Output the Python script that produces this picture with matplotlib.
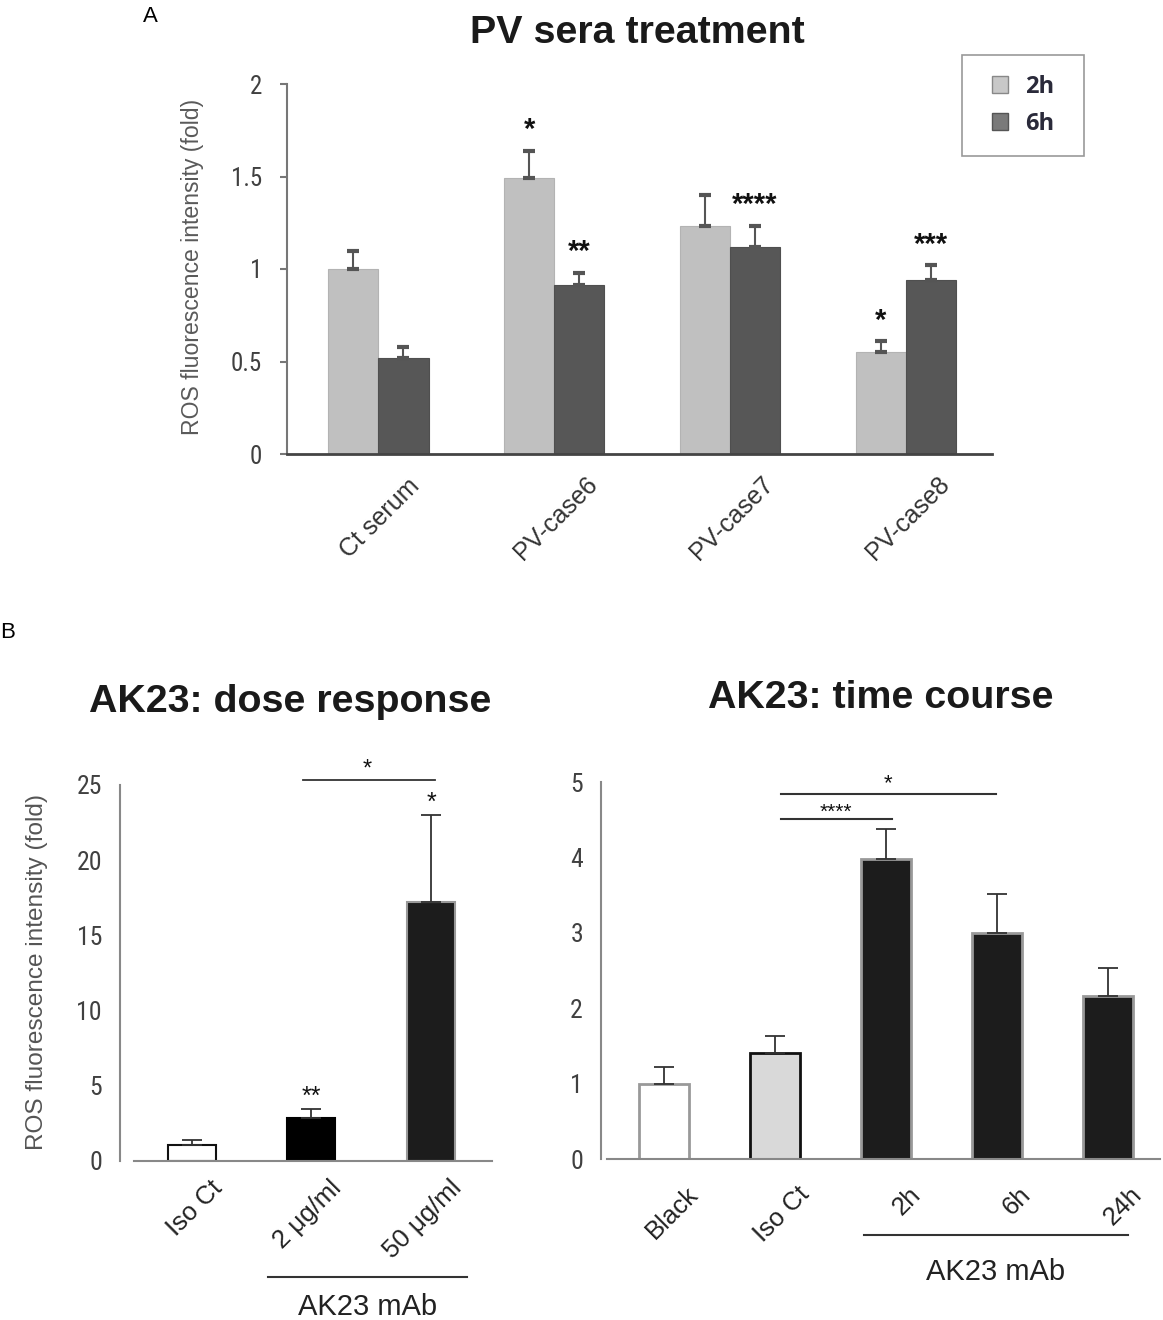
import matplotlib
matplotlib.use('Agg')
import matplotlib.pyplot as plt
import matplotlib.transforms as mtransforms
from matplotlib.patches import Rectangle, Patch
from matplotlib import font_manager
import numpy as np

# ---- data ----
# panel A: PV sera treatment
groups_a = ['Ct serum', 'PV-case6', 'PV-case7', 'PV-case8']
ros_2h = [1.00, 1.49, 1.235, 0.55]
sem_2h = [0.10, 0.15, 0.165, 0.06]
ros_6h = [0.52, 0.915, 1.12, 0.94]
sem_6h = [0.06, 0.065, 0.115, 0.08]
stars_2h = ['', '*', '', '*']
stars_6h = ['', '**', '****', '***']

# panel B left: dose response
dose_labels = ['Iso Ct', '2 μg/ml', '50 μg/ml']
dose_vals = [1.0, 2.85, 17.2]
dose_sem = [0.36, 0.58, 5.8]
dose_stars = ['', '**', '*']

# panel B right: time course
time_labels = ['Black', 'Iso Ct', '2h', '6h', '24h']
time_vals = [1.0, 1.41, 3.98, 3.0, 2.16]
time_sem = [0.22, 0.22, 0.40, 0.51, 0.37]

W, H = 1163, 1320
plt.rcParams['font.family'] = ['Liberation Sans', 'DejaVu Sans']


def pick_narrow():
    # look for a condensed sans to mimic Arial Narrow tick labels
    ranked = ['Liberation Sans Narrow', 'Roboto Condensed', 'Open Sans Condensed',
              'DejaVu Sans Condensed', 'DejaVu Sans']
    found = []
    for f in font_manager.fontManager.ttflist:
        narrowish = ('Narrow' in f.name or 'Condensed' in f.name
                     or f.stretch in ('condensed', 'semi-condensed', 'extra-condensed'))
        if not narrowish or f.style != 'normal':
            continue
        if f.weight not in (400, 'normal', 'regular', 'book'):
            continue
        rank = ranked.index(f.name) if f.name in ranked else len(ranked)
        found.append((rank, f.fname))
    if found:
        found.sort()
        return font_manager.FontProperties(fname=found[0][1])
    return font_manager.FontProperties(family='Liberation Sans')


narrow_fp = pick_narrow()

fig = plt.figure(figsize=(W / 100, H / 100), dpi=100)


def px_axes(left, right, top, bottom):
    return fig.add_axes([left / W, 1 - bottom / H, (right - left) / W, (bottom - top) / H])


def style_axes(ax, tick_len, tick_size):
    for s in ['top', 'right']:
        ax.spines[s].set_visible(False)
    ax.tick_params(axis='y', length=tick_len, width=1.5, color='#777777', pad=13,
                   labelcolor='#404040')
    for t in ax.get_yticklabels():
        t.set_fontproperties(narrow_fp)
        t.set_fontsize(tick_size)
    ax.set_xticks([])


# ---------------- panel A ----------------
ax_a = px_axes(287, 992, 84, 454)
x = np.arange(len(groups_a))
w = 0.285
ax_a.bar(x - w / 2, ros_2h, w, color='#c0c0c0', edgecolor='#b3b3b3', lw=0.8)
ax_a.bar(x + w / 2, ros_6h, w, color='#575757', edgecolor='#4f4f4f', lw=0.8)
ax_a.errorbar(x - w / 2, ros_2h, yerr=[np.zeros(len(x)), sem_2h], fmt='none',
              ecolor='#555555', elinewidth=1.5, capsize=4, capthick=3)
ax_a.errorbar(x + w / 2, ros_6h, yerr=[np.zeros(len(x)), sem_6h], fmt='none',
              ecolor='#555555', elinewidth=1.5, capsize=4, capthick=3)
ax_a.set_ylim(0, 2)
ax_a.set_xlim(-0.52, 3.49)
ax_a.set_yticks([0, 0.5, 1, 1.5, 2])
ax_a.set_yticklabels(['0', '0.5', '1', '1.5', '2'])
style_axes(ax_a, 5, 18)
ax_a.spines['left'].set_color('#777777')
ax_a.spines['left'].set_linewidth(1.5)
ax_a.spines['bottom'].set_color('#444444')
ax_a.spines['bottom'].set_linewidth(2)
for xi, lab in zip(x, groups_a):
    ax_a.text(xi + 0.01, -64 / 370, lab, transform=ax_a.get_xaxis_transform(),
              rotation=45, ha='center', va='center', rotation_mode='anchor',
              fontsize=18, color='#333333')
for xi, v, e, s in zip(x, ros_2h, sem_2h, stars_2h):
    if s:
        ax_a.text(xi - w / 2, v + e + 0.11, s, ha='center', va='center', fontsize=21,
                  weight='bold', color='#111111')
for xi, v, e, s in zip(x, ros_6h, sem_6h, stars_6h):
    if s:
        ax_a.text(xi + w / 2, v + e + 0.11, s, ha='center', va='center', fontsize=21,
                  weight='bold', color='#111111')

# legend with a plain box
fig.patches.append(Rectangle((962 / W, 1 - 156 / H), 122 / W, 101 / H, transform=fig.transFigure,
                             fill=False, ec='#999999', lw=1.2))
handles = [Patch(fc='#c8c8c8', ec='#888888'), Patch(fc='#7a7a7a', ec='#555555')]
fig.legend(handles, ['2h', '6h'], loc='center', bbox_to_anchor=(1023 / W, 1 - 105.5 / H),
           frameon=False, prop=dict(family='Open Sans', weight='bold', size=17),
           handlelength=0.7, handleheight=0.7, handletextpad=0.7, labelspacing=0.55,
           labelcolor='#2a2a3a')

fig.text(637 / W, 1 - 33 / H, 'PV sera treatment', ha='center', va='center',
         fontsize=28.4, weight='bold', color='#1a1a1a')
fig.text(150 / W, 1 - 17 / H, 'A', ha='center', va='center', fontsize=16)
fig.text(192 / W, 1 - 267 / H, 'ROS fluorescence intensity (fold)', rotation=90,
         ha='center', va='center', fontsize=16.6, color='#5a5a5a')

# ---------------- panel B: dose response ----------------
ax_d = px_axes(120, 492, 1160.5 - 27 * 15.02, 1160.5)
xd = np.arange(len(dose_labels))
ax_d.bar(xd, dose_vals, 0.4, color=['white', 'black', '#1c1c1c'],
         edgecolor=['#111111', '#000000', '#999999'], lw=1.5)
ax_d.errorbar(xd, dose_vals, yerr=[np.zeros(len(xd)), dose_sem], fmt='none',
              ecolor='#333333', elinewidth=1.3, capsize=7, capthick=1.3)
ax_d.set_ylim(0, 27)
ax_d.set_xlim(-0.6, 2.51)
ax_d.set_yticks(range(0, 26, 5))
style_axes(ax_d, 0, 18.5)
ax_d.spines['left'].set_bounds(0, 25)
ax_d.spines['bottom'].set_bounds(-0.48, 2.51)
for s in ['left', 'bottom']:
    ax_d.spines[s].set_color('#888888')
    ax_d.spines[s].set_linewidth(1.5)
off = mtransforms.ScaledTranslation(0.18, 0, fig.dpi_scale_trans)
for xi, lab in zip(xd, dose_labels):
    ax_d.text(xi, -(1176 - 1160.5) / 405.5, lab, transform=ax_d.get_xaxis_transform() + off,
              rotation=45, ha='right', va='top', rotation_mode='anchor', fontsize=18.5, color='#222222')
for xi, v, e, s in zip(xd, dose_vals, dose_sem, dose_stars):
    if s:
        ax_d.text(xi, v + e + 0.8, s, ha='center', va='center', fontsize=18, color='#111111')
ax_d.plot([0.93, 2.03], [25.35, 25.35], color='#333333', lw=1.3, clip_on=False)
ax_d.text(1.47, 26.0, '*', ha='center', va='center', fontsize=17, color='#111111')
ax_d.plot([0.64, 2.30], [-0.287, -0.287], transform=ax_d.get_xaxis_transform(),
          color='#333333', lw=1.5, clip_on=False)
ax_d.text(1.47, -0.361, 'AK23 mAb', transform=ax_d.get_xaxis_transform(),
          ha='center', va='center', fontsize=21, color='#222222')
fig.text(37 / W, 1 - 972 / H, 'ROS fluorescence intensity (fold)', rotation=90,
         ha='center', va='center', fontsize=17.6, color='#555555')
fig.text(290 / W, 1 - 702 / H, 'AK23: dose response', ha='center', va='center',
         fontsize=28.4, weight='bold', color='#1a1a1a')
fig.text(8 / W, 1 - 633 / H, 'B', ha='center', va='center', fontsize=16)

# ---------------- panel B: time course ----------------
ax_t = px_axes(601, 1160, 1159.3 - 5.2 * 75.46, 1159.3)
xt = np.arange(len(time_labels))
ax_t.bar(xt, time_vals, 0.45, color=['white', '#d9d9d9', '#1c1c1c', '#1c1c1c', '#1c1c1c'],
         edgecolor=['#999999', '#111111', '#999999', '#999999', '#999999'], lw=2)
ax_t.errorbar(xt, time_vals, yerr=[np.zeros(len(xt)), time_sem], fmt='none',
              ecolor='#333333', elinewidth=1.3, capsize=7, capthick=1.3)
ax_t.set_ylim(0, 5.2)
ax_t.set_xlim(-0.57, 4.47)
ax_t.set_yticks(range(0, 6))
style_axes(ax_t, 0, 18.5)
ax_t.spines['left'].set_bounds(0, 5)
ax_t.spines['bottom'].set_bounds(-0.52, 4.47)
for s in ['left', 'bottom']:
    ax_t.spines[s].set_color('#888888')
    ax_t.spines[s].set_linewidth(1.5)
off_t = mtransforms.ScaledTranslation(0.22, 0, fig.dpi_scale_trans)
for xi, lab in zip(xt, time_labels):
    ax_t.text(xi, -(1182 - 1159.3) / 392.4, lab, transform=ax_t.get_xaxis_transform() + off_t,
              rotation=45, ha='right', va='top', rotation_mode='anchor', fontsize=18.5, color='#222222')
ax_t.plot([1.05, 2.05], [4.51, 4.51], color='#333333', lw=1.5, clip_on=False)
ax_t.text(1.55, 4.6, '****', ha='center', va='center', fontsize=15, color='#111111')
ax_t.plot([1.05, 2.99], [4.84, 4.84], color='#333333', lw=1.5, clip_on=False)
ax_t.text(2.02, 4.98, '*', ha='center', va='center', fontsize=16, color='#111111')
ax_t.plot([1.80, 4.18], [-0.193, -0.193], transform=ax_t.get_xaxis_transform(),
          color='#333333', lw=1.5, clip_on=False)
ax_t.text(2.99, -0.287, 'AK23 mAb', transform=ax_t.get_xaxis_transform(),
          ha='center', va='center', fontsize=21, color='#222222')
fig.text(881 / W, 1 - 698 / H, 'AK23: time course', ha='center', va='center',
         fontsize=28.4, weight='bold', color='#1a1a1a')

plt.savefig('out.png', dpi=100)
